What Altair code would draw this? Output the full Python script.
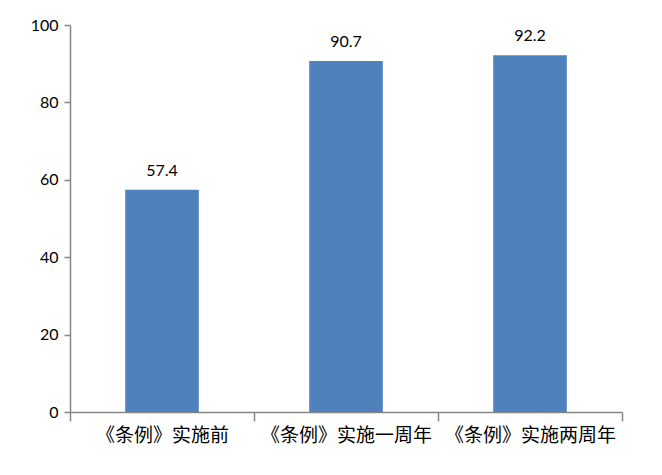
import altair as alt
import pandas as pd

categories = ["《条例》实施前", "《条例》实施一周年", "《条例》实施两周年"]
values = [57.4, 90.7, 92.2]
labels = ["57.4", "90.7", "92.2"]

df = pd.DataFrame({"cat": categories, "val": values, "lab": labels})

x = alt.X("cat:N", sort=categories, title=None,
          scale=alt.Scale(paddingInner=0, paddingOuter=0),
          axis=alt.Axis(labelAngle=0, tickBand="extent", tickSize=9,
                        labelPadding=5, labelFont="Noto Sans CJK SC",
                        labelFontSize=19, labelColor="#000000",
                        domainColor="#868686", tickColor="#868686",
                        domainWidth=1.5, tickWidth=1.5, labelOverlap=False,
                        labelLimit=300))
y = alt.Y("val:Q", title=None,
          scale=alt.Scale(domain=[0, 100], nice=False),
          axis=alt.Axis(values=[0, 20, 40, 60, 80, 100], grid=False, tickSize=6,
                        labelPadding=6, labelFont="Lato", labelFontSize=16,
                        labelColor="#000000", domainColor="#868686",
                        tickColor="#868686", domainWidth=1.5, tickWidth=1.5))

bars = alt.Chart(df).mark_bar(color="#4F81BD", width=alt.RelativeBandSize(0.4)).encode(x=x, y=y)
text = alt.Chart(df).mark_text(dy=-19, font="Lato", fontSize=16, color="#000000",
                               baseline="middle").encode(x=x, y=y, text="lab:N")

chart = (bars + text).properties(
    width=552, height=387,
    autosize=alt.AutoSizeParams(type="none"),
    padding={"left": 62, "top": 17, "right": 32, "bottom": 55},
).configure_view(stroke=None)

chart.save("out.html", embed_options={"renderer": "svg", "actions": False})
